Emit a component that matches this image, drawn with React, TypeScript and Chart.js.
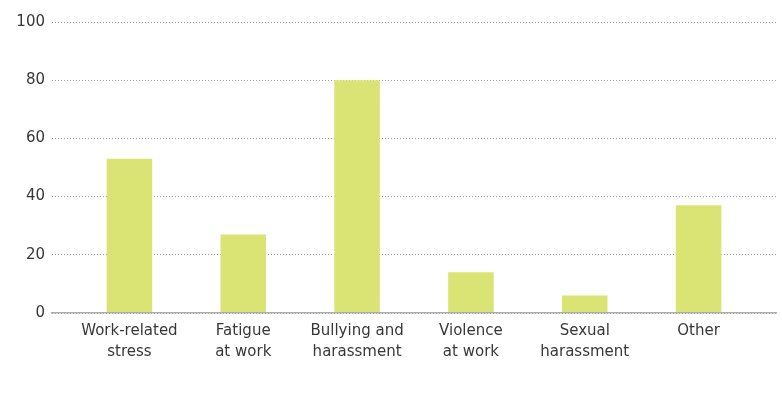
import React, { useEffect, useRef } from "react";
import { Chart, registerables } from "chart.js";

Chart.register(...registerables);

const categories: string[][] = [
  ["Work-related", "stress"],
  ["Fatigue", "at work"],
  ["Bullying and", "harassment"],
  ["Violence", "at work"],
  ["Sexual", "harassment"],
  ["Other"],
];
const values: number[] = [53, 27, 80, 14, 6, 37];
const yTicks: number[] = [0, 20, 40, 60, 80, 100];

const FONT = "'DejaVu Sans', sans-serif";

export default function App() {
  const ref = useRef<HTMLCanvasElement | null>(null);

  useEffect(() => {
    if (!ref.current) return;
    const chart = new Chart(ref.current, {
      type: "bar",
      data: {
        datasets: [
          {
            data: values.map((v, i) => ({ x: i, y: v })),
            backgroundColor: "#d9e475",
            barPercentage: 0.4,
            categoryPercentage: 1,
          },
        ],
      },
      options: {
        responsive: false,
        animation: false,
        layout: { padding: { top: 22, right: 6, bottom: 0, left: 0 } },
        plugins: { legend: { display: false }, tooltip: { enabled: false } },
        scales: {
          x: {
            type: "linear",
            offset: false,
            min: -0.68,
            max: 5.68,
            afterBuildTicks: (s: any) => {
              s.ticks = categories.map((_, i) => ({ value: i }));
            },
            afterFit: (s: any) => {
              s.height = 82;
            },
            grid: { display: false, drawTicks: false, offset: false },
            border: { display: true, color: "#acacac", width: 1.5, z: 1 },
            ticks: {
              autoSkip: false,
              maxRotation: 0,
              padding: 8,
              color: "#383838",
              font: { family: FONT, size: 15, lineHeight: 1.4 },
              callback: (v: any) => categories[Number(v)] ?? "",
            },
          },
          y: {
            min: 0,
            max: 100,
            afterBuildTicks: (s: any) => {
              s.ticks = yTicks.map((v) => ({ value: v }));
            },
            afterFit: (s: any) => {
              s.width = 52;
            },
            border: { display: false, dash: [1, 2] },
            grid: {
              color: "#9a9a9a",
              lineWidth: 1,
              drawTicks: false,
            },
            ticks: {
              padding: 7,
              color: "#383838",
              font: { family: FONT, size: 15 },
            },
          },
        },
      },
    } as any);
    return () => chart.destroy();
  }, []);

  return (
    <div style={{ position: "absolute", left: 0, top: 0, width: 782, height: 395 }}>
      <canvas ref={ref} width={782} height={395} />
    </div>
  );
}
